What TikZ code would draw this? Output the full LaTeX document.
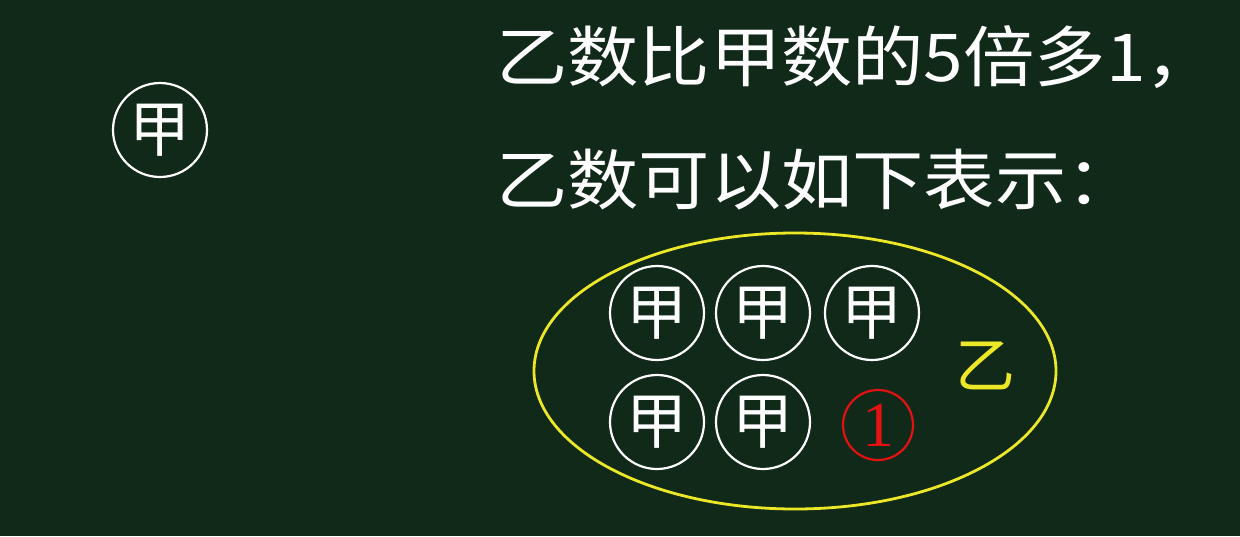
\documentclass[tikz,border=0pt]{standalone}
\usepackage{fontspec}
\setmainfont{Noto Sans CJK SC}
\newfontfamily\cjk{Noto Sans CJK SC}
\newfontfamily\cjkwide[FakeStretch=1.08]{Noto Sans CJK SC}
\newfontfamily\serifnum{Liberation Serif}
\definecolor{bg}{RGB}{17,41,25}
\definecolor{chalkyellow}{RGB}{236,232,40}
\definecolor{chalkred}{RGB}{226,18,18}
\begin{document}
\begin{tikzpicture}[x=1pt,y=-1pt,
  jia/.style={circle,draw=white,line width=2.2pt,minimum size=94pt,inner sep=0pt,
    text=white,font=\cjk\fontsize{61}{61}\selectfont},
  bigtext/.style={anchor=west,inner sep=0pt,text=white,font=\cjkwide\fontsize{66}{66}\selectfont},
  one/.style={circle,draw=chalkred,line width=2.2pt,minimum size=70pt,inner sep=0pt,
    text=chalkred,font=\serifnum\fontsize{64}{64}\selectfont},
  yi/.style={inner sep=0pt,text=chalkyellow,font=\cjk\fontsize{60}{60}\selectfont},
  setline/.style={draw=chalkyellow,line width=2.8pt}]
  \fill[bg] (0,0) rectangle (1240,536);
  \useasboundingbox (0,0) rectangle (1240,536);

  \node[jia] (j0) at (160,130) {甲};

  \node[bigtext] (line1) at (496,57) {乙数比甲数的5倍多1，};
  \node[bigtext] (line2) at (496,180) {乙数可以如下表示：};

  \draw[setline] (795,371) ellipse [x radius=261pt, y radius=138pt];

  \node[jia] (j1) at (657,313) {甲};
  \node[jia] (j2) at (763,313) {甲};
  \node[jia] (j3) at (872,313) {甲};
  \node[jia] (j4) at (657,422) {甲};
  \node[jia] (j5) at (763,422) {甲};
  \node[one] (o1) at (878,425) {1};
  \node[yi] (yi) at (985,366) {乙};
\end{tikzpicture}
\end{document}
